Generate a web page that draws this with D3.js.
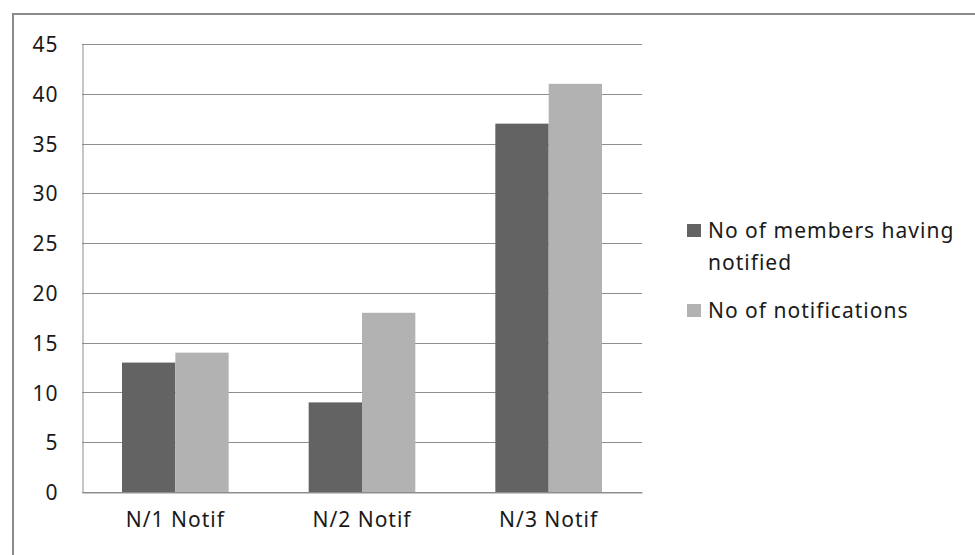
<!DOCTYPE html>
<html>
<head>
<meta charset="utf-8">
<script src="https://cdn.jsdelivr.net/npm/d3@7"></script>
<style>
  body { margin: 0; background: #fff; }
  text { font-family: "Noto Sans", sans-serif; fill: #1a1a1a; }
</style>
</head>
<body>
<div id="chart"></div>
<script>
// Chart data
const categories = ["N/1 Notif", "N/2 Notif", "N/3 Notif"];
const seriesNames = ["No of members having notified", "No of notifications"];
const membersNotified = [13, 9, 37];
const notifications = [14, 18, 41];
const yTicks = [0, 5, 10, 15, 20, 25, 30, 35, 40, 45];

const colors = ["#636363", "#b2b2b2"];

const W = 975, H = 555;
const plot = { left: 82, right: 642, top: 44, bottom: 492 };

const svg = d3.select("#chart")
    .append("svg")
    .attr("width", W)
    .attr("height", H);

// Outer frame (only top and left edges visible)
svg.append("path")
    .attr("d", "M13,555 L13,14 L975,14")
    .attr("fill", "none")
    .attr("stroke", "#8a8a8a")
    .attr("stroke-width", 2);

// Scales
const x = d3.scaleBand()
    .domain(categories)
    .range([plot.left, plot.right])
    .paddingInner(3 / 7)
    .paddingOuter(1.5 / 7);

const xInner = d3.scaleBand()
    .domain(seriesNames)
    .range([0, x.bandwidth()]);

const y = d3.scaleLinear()
    .domain([0, 45])
    .range([plot.bottom, plot.top]);

// Gridlines
svg.append("g")
    .selectAll("line")
    .data(yTicks)
    .enter().append("line")
    .attr("x1", plot.left)
    .attr("x2", plot.right)
    .attr("y1", d => Math.round(y(d)) + 0.5)
    .attr("y2", d => Math.round(y(d)) + 0.5)
    .attr("stroke", "#8e8e8e")
    .attr("stroke-width", 1);

// Y axis
const yAxis = d3.axisLeft(y).tickValues(yTicks).tickSize(0).tickPadding(24);
const gy = svg.append("g")
    .attr("transform", "translate(" + (plot.left + 0.5) + ",0)")
    .call(yAxis);
gy.select(".domain").attr("stroke", "#8e8e8e");
gy.selectAll("text")
    .style("font-size", "21px")
    .style("letter-spacing", "1px")
    .attr("dy", "0.36em");

// Bars
const rows = categories.map((c, i) => ({
    category: c,
    values: [membersNotified[i], notifications[i]]
}));

svg.append("g")
    .selectAll("g")
    .data(rows)
    .enter().append("g")
    .attr("transform", d => "translate(" + x(d.category) + ",0)")
    .selectAll("rect")
    .data(d => d.values.map((v, j) => ({ key: seriesNames[j], value: v, j: j })))
    .enter().append("rect")
    .attr("x", d => xInner(d.key))
    .attr("width", xInner.bandwidth())
    .attr("y", d => y(d.value))
    .attr("height", d => y(0) - y(d.value))
    .attr("fill", d => colors[d.j]);

// X axis
const xAxis = d3.axisBottom(x).tickSize(0).tickPadding(20);
const gx = svg.append("g")
    .attr("transform", "translate(0," + (plot.bottom + 0.5) + ")")
    .call(xAxis);
gx.select(".domain").attr("stroke", "#8e8e8e");
gx.selectAll("text")
    .style("font-size", "21px")
    .style("letter-spacing", "1px");

// Legend
const legendLines = [
    { idx: 0, lines: ["No of members having", "notified"], y: 238 },
    { idx: 1, lines: ["No of notifications"], y: 318 }
];

const legend = svg.append("g");
legendLines.forEach(item => {
    legend.append("rect")
        .attr("x", 687)
        .attr("y", item.y - 14)
        .attr("width", 14)
        .attr("height", 13)
        .attr("fill", colors[item.idx]);
    item.lines.forEach((t, k) => {
        legend.append("text")
            .attr("x", 708)
            .attr("y", item.y + k * 32)
            .style("font-size", "21px")
            .style("letter-spacing", "1px")
            .text(t);
    });
});
</script>
</body>
</html>
